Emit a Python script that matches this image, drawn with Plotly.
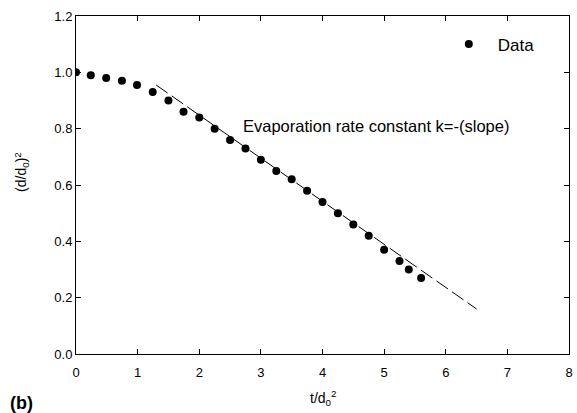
import plotly.graph_objects as go

# Normalised droplet size history
t_norm = [0.0, 0.24, 0.49, 0.745, 0.99, 1.245, 1.5, 1.745, 2.0, 2.25, 2.5, 2.75,
          3.0, 3.25, 3.5, 3.75, 4.0, 4.25, 4.5, 4.75, 5.0, 5.25, 5.4, 5.6]
d_sq = [1.0, 0.99, 0.98, 0.97, 0.955, 0.93, 0.90, 0.86, 0.84, 0.80, 0.76, 0.73,
        0.69, 0.65, 0.62, 0.58, 0.54, 0.50, 0.46, 0.42, 0.37, 0.33, 0.30, 0.27]

# Linear (d^2-law) fit endpoints
fit_t = [1.3, 6.5]
fit_y = [0.955, 0.16]

x_ticks = [0, 1, 2, 3, 4, 5, 6, 7, 8]
y_ticks = [0.0, 0.2, 0.4, 0.6, 0.8, 1.0, 1.2]

FONT = "Liberation Sans, Arial, sans-serif"

fig = go.Figure()
fig.add_trace(go.Scatter(
    x=fit_t, y=fit_y, mode="lines",
    line=dict(color="black", width=1, dash="14px,5px"),
    showlegend=False, hoverinfo="skip"))
fig.add_trace(go.Scatter(
    x=t_norm, y=d_sq, mode="markers", name="Data",
    marker=dict(color="black", size=8, symbol="circle")))

axis_common = dict(
    showline=True, linecolor="black", linewidth=1, mirror="ticks",
    ticks="inside", ticklen=5, tickwidth=1, tickcolor="black",
    showgrid=False, zeroline=False,
    tickfont=dict(family=FONT, size=13, color="black"))

fig.update_xaxes(range=[0, 8], tickvals=x_ticks,
                 ticktext=[str(v) for v in x_ticks],
                 ticklabelstandoff=6, **axis_common)
fig.update_yaxes(range=[0, 1.2], tickvals=y_ticks,
                 ticktext=[f"{v:.1f}" for v in y_ticks], **axis_common)

fig.update_layout(
    width=577, height=413,
    margin=dict(l=76, r=4, t=16, b=59),
    paper_bgcolor="white", plot_bgcolor="white",
    font=dict(family=FONT, size=13, color="black"),
    showlegend=True,
    legend=dict(x=0.738, y=0.916, xanchor="left", yanchor="middle",
                bgcolor="rgba(0,0,0,0)", font=dict(family=FONT, size=17),
                itemwidth=48),
    annotations=[
        dict(text="Evaporation rate constant k=-(slope)", x=2.67, y=0.81,
             xref="x", yref="y", xanchor="left", yanchor="middle",
             showarrow=False, font=dict(family=FONT, size=16.5)),
        dict(text="t/d<sub>0</sub><sup>2</sup>", x=0.5, y=-0.095,
             xref="paper", yref="paper", xanchor="center", yanchor="top",
             showarrow=False, font=dict(family=FONT, size=14)),
        dict(text="(d/d<sub>0</sub>)<sup>2</sup>", x=-0.11, y=0.538,
             xref="paper", yref="paper", xanchor="center", yanchor="middle",
             textangle=-90, showarrow=False, font=dict(family=FONT, size=14)),
        dict(text="<b>(b)</b>", x=-0.137, y=-0.145,
             xref="paper", yref="paper", xanchor="left", yanchor="middle",
             showarrow=False, font=dict(family=FONT, size=18)),
    ],
)

fig.write_html("out.html")
